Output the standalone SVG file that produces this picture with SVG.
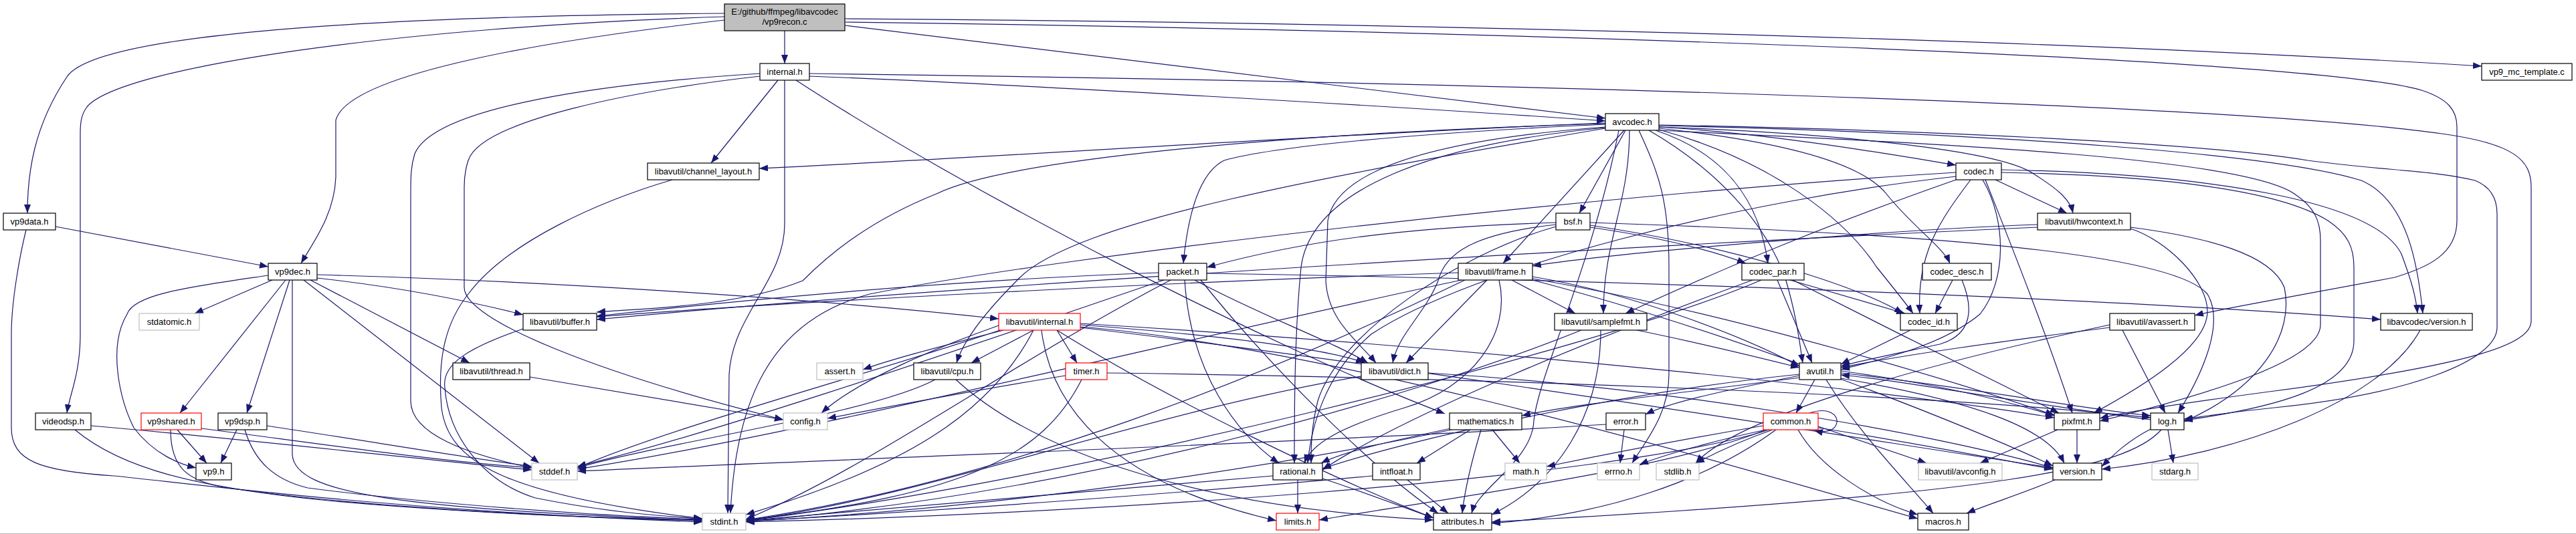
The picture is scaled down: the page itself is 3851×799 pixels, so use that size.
<svg xmlns="http://www.w3.org/2000/svg" width="3851" height="799" viewBox="0 0 3851 799">
<style>
.e{fill:none;stroke:#191970;stroke-width:1.2;marker-end:url(#arr)}
.n rect{fill:#fff;stroke:#000;stroke-width:1.2}
.n.g rect{stroke:#bfbfbf}
.n.r rect{stroke:#ff0000}
.n.m rect{fill:#bfbfbf}
.n text{font-family:"Liberation Sans",Arial,sans-serif;font-size:13px;fill:#000;text-anchor:middle}
</style>
<defs>
<marker id="arr" viewBox="0 0 13 10" refX="13" refY="5" markerWidth="13" markerHeight="10" markerUnits="userSpaceOnUse" orient="auto"><path d="M0,0 L13,5 L0,10 z" fill="#191970"/></marker>
</defs>
<rect width="3851" height="799" fill="#fff"/>
<line x1="0" y1="798.5" x2="3851" y2="798.5" stroke="#b4b4b4"/>
<g id="connectors">
<path class="e" d="M1173,46 L1173,95"/>
<path class="e" d="M1263,38 L2400,177"/>
<path class="e" d="M1263,28 C2000,33 3000,55 3710,99"/>
<path class="e" d="M1263,33 C2200,45 3450,85 3620,135 C3660,148 3673,165 3673,190 L3673,330 C3673,380 3630,400 3580,415 C3450,440 3320,462 3281,472"/>
<path class="e" d="M1083,20 C500,25 140,55 100,115 C50,190 41,260 41,319"/>
<path class="e" d="M1083,25 C600,40 180,100 130,160 C121,172 120,185 120,200 L120,500 C120,560 104,590 100,618"/>
<path class="e" d="M1083,30 C820,60 520,110 502,180 L502,265 C500,320 470,360 450,394"/>
<path class="e" d="M1163,120 L1063,244"/>
<path class="e" d="M1173,120 L1173,335 C1173,420 1095,470 1090,560 L1088,768"/>
<path class="e" d="M1136,110 C900,125 650,160 620,230 C614,250 614,265 614,290 L614,600 C614,650 700,680 795,700"/>
<path class="e" d="M1136,114 C950,135 720,180 700,240 C695,255 694,265 694,280 L694,430 C694,480 900,560 1171,628"/>
<path class="e" d="M1190,120 C1450,290 1900,520 2160,619"/>
<path class="e" d="M1210,114 C1500,125 2100,160 2400,181"/>
<path class="e" d="M1210,110 C2000,120 3300,150 3650,200 C3760,215 3784,240 3784,280 L3784,480 C3784,515 3700,545 3400,585 C3250,605 3170,618 3139,626"/>
<path class="e" d="M2450,195 C2480,260 2495,300 2495,400 L2495,560 C2495,620 2460,660 2440,693"/>
<path class="e" d="M2436,195 C2436,305 2397,359 2397,469"/>
<path class="e" d="M2420,195 C2380,400 2300,560 2293,630 C2290,690 2210,730 2200,768"/>
<path class="e" d="M2465,195 C2560,250 2640,330 2670,420 C2685,470 2690,510 2695,543"/>
<path class="e" d="M2400,185 C1900,200 1500,240 1400,290 C1300,330 1240,380 1200,420 C1100,460 950,462 892,467"/>
<path class="e" d="M2400,192 C2000,260 1600,330 1520,420 C1470,470 1440,510 1430,543"/>
<path class="e" d="M2400,184 C2000,200 1500,235 1135,252"/>
<path class="e" d="M2400,190 C2200,205 2000,240 1985,330 L1982,420 C1985,480 2030,510 2057,543"/>
<path class="e" d="M2428,195 L2247,394"/>
<path class="e" d="M2480,190 C2750,200 2990,225 3040,260 C3080,285 3095,300 3099,319"/>
<path class="e" d="M2480,187 C2900,195 3300,215 3450,240 C3560,255 3640,255 3700,270 C3725,280 3733,300 3733,320 L3733,490 C3733,540 3600,590 3400,610 C3320,618 3290,624 3265,627"/>
<path class="e" d="M2480,195 C2900,215 3350,235 3430,290 C3460,310 3469,330 3469,360 L3469,486 C3469,540 3300,590 3139,630"/>
<path class="e" d="M2400,191 C2150,215 1960,280 1945,400 C1935,500 1935,620 1935,693"/>
<path class="e" d="M2430,195 L2361,319"/>
<path class="e" d="M2480,190 C2650,200 2820,230 2924,247"/>
<path class="e" d="M2480,192 C2650,210 2780,240 2820,290 C2860,340 2905,370 2915,394"/>
<path class="e" d="M2475,195 C2580,230 2630,300 2643,394"/>
<path class="e" d="M2480,194 C2650,240 2760,330 2805,399 C2830,430 2850,455 2860,469"/>
<path class="e" d="M2400,186 C2100,200 1900,220 1830,240 C1790,260 1775,330 1769,394"/>
<path class="e" d="M2480,188 C3000,200 3400,230 3530,270 C3600,300 3615,400 3622,469"/>
<path class="e" d="M2326,336 C2200,350 2160,380 2150,420 C2130,470 2090,500 2082,543"/>
<path class="e" d="M2377,333 C2900,350 3250,380 3300,440 C3330,490 3280,580 3256,618"/>
<path class="e" d="M2326,339 C2180,380 2000,500 1970,600 C1960,640 1960,670 1960,693"/>
<path class="e" d="M2377,337 C2600,370 2780,430 2845,469"/>
<path class="e" d="M2377,340 C2480,355 2560,375 2610,394"/>
<path class="e" d="M2326,333 C2100,340 1950,360 1804,400"/>
<path class="e" d="M2924,258 C2400,290 1600,380 1300,440 C1150,480 1100,600 1092,768"/>
<path class="e" d="M2964,269 C3000,330 3000,420 2960,470 C2900,520 2800,540 2752,553"/>
<path class="e" d="M2983,269 L3090,319"/>
<path class="e" d="M2992,258 C3200,262 3400,280 3480,330 C3510,350 3519,370 3519,400 L3519,510 C3519,580 3400,610 3265,629"/>
<path class="e" d="M2968,269 C3000,350 3060,500 3098,618"/>
<path class="e" d="M2924,264 C2600,300 2200,400 2050,500 C1980,560 1960,640 1955,693"/>
<path class="e" d="M2924,269 C2750,330 2600,390 2430,469"/>
<path class="e" d="M2946,269 C2900,330 2865,380 2870,469"/>
<path class="e" d="M2992,254 C3300,260 3550,300 3590,380 C3605,420 3612,445 3614,469"/>
<path class="e" d="M3046,340 C2600,360 1500,420 892,478"/>
<path class="e" d="M3046,336 C2800,345 2400,380 2291,398"/>
<path class="e" d="M3185,340 C3300,355 3395,380 3415,430 C3430,500 3380,580 3265,631"/>
<path class="e" d="M3185,342 C3240,360 3300,420 3300,466 C3300,520 3200,580 3130,618"/>
<path class="e" d="M1740,419 C1500,500 1100,640 863,698"/>
<path class="e" d="M1750,419 C1500,550 1300,700 1115,777"/>
<path class="e" d="M1795,419 C1900,550 2050,700 2150,768"/>
<path class="e" d="M1732,408 C1400,420 1100,450 892,473"/>
<path class="e" d="M1786,419 C1880,470 1990,510 2045,543"/>
<path class="e" d="M1771,419 C1780,560 1850,650 1912,693"/>
<path class="e" d="M1804,409 C2500,420 3200,450 3559,478"/>
<path class="e" d="M2185,419 C1800,500 1200,650 863,702"/>
<path class="e" d="M2190,419 C1900,560 1500,720 1115,778"/>
<path class="e" d="M2291,414 C2450,440 2620,510 2690,548"/>
<path class="e" d="M2180,408 C1800,420 1200,450 892,474"/>
<path class="e" d="M2223,419 L2102,543"/>
<path class="e" d="M2241,419 C2260,500 2200,580 2100,610 C2000,640 1960,665 1950,693"/>
<path class="e" d="M2260,419 L2355,469"/>
<path class="e" d="M2291,417 C2600,470 2950,580 3071,621"/>
<path class="e" d="M2291,419 C2600,500 2950,640 3069,697"/>
<path class="e" d="M2633,419 C2400,520 1600,720 1115,779"/>
<path class="e" d="M2657,419 L2709,543"/>
<path class="e" d="M2620,419 C2400,500 2100,620 1977,703"/>
<path class="e" d="M2680,419 C2800,480 3000,580 3078,618"/>
<path class="e" d="M2676,419 L2848,469"/>
<path class="e" d="M2933,419 C2950,460 2950,500 2900,515 C2830,530 2780,540 2752,548"/>
<path class="e" d="M2919,419 L2893,469"/>
<path class="e" d="M2856,494 L2752,545"/>
<path class="e" d="M39,344 C30,380 17,450 17,500 L17,640 C17,690 60,705 170,712 C300,725 600,765 1050,781"/>
<path class="e" d="M83,339 L401,399"/>
<path class="e" d="M407,419 L291,469"/>
<path class="e" d="M401,412 C280,430 200,440 190,470 C160,520 180,600 200,640 C230,680 270,695 293,700"/>
<path class="e" d="M427,419 L269,618"/>
<path class="e" d="M433,419 L369,618"/>
<path class="e" d="M437,419 L437,680 C440,740 600,760 1050,779"/>
<path class="e" d="M454,419 L806,693"/>
<path class="e" d="M464,419 L702,543"/>
<path class="e" d="M474,416 C600,430 700,450 782,471"/>
<path class="e" d="M474,411 C800,420 1200,445 1493,477"/>
<path class="e" d="M782,492 C700,520 660,545 665,580 C670,650 720,720 800,745 C900,765 980,772 1050,776"/>
<path class="e" d="M1005,269 C900,300 760,360 700,440 C660,490 655,550 660,610 C670,690 750,740 1050,776"/>
<path class="e" d="M792,564 L1171,628"/>
<path class="e" d="M1557,494 C1570,600 1650,720 1908,779"/>
<path class="e" d="M1545,494 C1480,620 1350,700 1115,770"/>
<path class="e" d="M1495,494 C1300,560 1000,640 863,700"/>
<path class="e" d="M1500,494 C1420,515 1340,535 1290,553"/>
<path class="e" d="M1493,487 C1400,520 1280,570 1228,618"/>
<path class="e" d="M1580,494 C1750,600 2000,720 2143,775"/>
<path class="e" d="M1580,494 L1610,543"/>
<path class="e" d="M1545,494 L1452,543"/>
<path class="e" d="M1615,486 C1800,500 1980,520 2040,543"/>
<path class="e" d="M1615,489 C2000,520 2600,700 2867,776"/>
<path class="e" d="M1615,484 C2200,520 2800,580 3071,625"/>
<path class="e" d="M1615,490 C2200,560 2800,660 3069,700"/>
<path class="e" d="M2364,494 C2100,600 1600,740 1115,780"/>
<path class="e" d="M2447,494 C2550,515 2630,535 2690,550"/>
<path class="e" d="M2393,494 C2393,620 2330,720 2230,770"/>
<path class="e" d="M3154,486 C2900,540 2600,620 2535,693"/>
<path class="e" d="M3154,490 C3000,510 2850,530 2752,550"/>
<path class="e" d="M3173,494 L3237,618"/>
<path class="e" d="M3618,494 C3560,600 3350,680 3142,702"/>
<path class="e" d="M1398,568 C1300,620 1000,660 863,700"/>
<path class="e" d="M1429,568 C1550,680 1800,760 2143,778"/>
<path class="e" d="M1593,562 C1450,585 1320,610 1237,626"/>
<path class="e" d="M1617,568 C1560,680 1450,740 1115,778"/>
<path class="e" d="M1655,558 C2200,565 2900,590 3215,625"/>
<path class="e" d="M2035,563 C1700,620 1400,740 1115,779"/>
<path class="e" d="M2135,558 C2500,580 2900,650 3069,700"/>
<path class="e" d="M2713,568 L2685,618"/>
<path class="e" d="M2690,562 C2600,580 2500,600 2460,620"/>
<path class="e" d="M2690,560 C2400,590 2100,660 1977,701"/>
<path class="e" d="M2752,566 C2950,600 3060,640 3086,693"/>
<path class="e" d="M2730,568 C2780,650 2850,720 2890,768"/>
<path class="e" d="M2690,565 C2500,590 2350,605 2275,622"/>
<path class="e" d="M2752,558 C2950,580 3100,610 3215,622"/>
<path class="e" d="M2752,555 C2900,575 3000,600 3071,622"/>
<path class="e" d="M3241,643 L3249,693"/>
<path class="e" d="M3215,628 C3000,600 2850,570 2752,561"/>
<path class="e" d="M3231,643 C3180,700 3000,740 2230,781"/>
<path class="e" d="M3217,641 C3180,660 3160,680 3142,698"/>
<path class="e" d="M2705,618 C2735,608 2748,622 2746,632 C2744,645 2728,648 2712,644"/>
<path class="e" d="M2718,638 L2880,693"/>
<path class="e" d="M2718,640 C2850,660 3000,690 3069,702"/>
<path class="e" d="M2688,643 C2720,700 2800,750 2867,770"/>
<path class="e" d="M2640,643 C2560,660 2490,680 2451,695"/>
<path class="e" d="M2650,643 C2600,660 2560,680 2535,693"/>
<path class="e" d="M2636,637 C2500,660 2400,680 2312,698"/>
<path class="e" d="M2640,643 C2500,700 2200,740 1972,778"/>
<path class="e" d="M2645,643 C2400,720 1600,770 1115,781"/>
<path class="e" d="M2655,643 C2550,720 2400,770 2230,783"/>
<path class="e" d="M2428,643 L2422,693"/>
<path class="e" d="M2401,635 C2000,660 1200,690 863,705"/>
<path class="e" d="M2198,643 L2118,693"/>
<path class="e" d="M2231,643 L2272,693"/>
<path class="e" d="M2214,643 C2200,690 2190,730 2186,768"/>
<path class="e" d="M2169,641 C2080,660 2010,675 1975,693"/>
<path class="e" d="M2170,643 C1900,700 1500,760 1115,780"/>
<path class="e" d="M3076,643 L2960,693"/>
<path class="e" d="M3105,643 L3105,693"/>
<path class="e" d="M3072,718 C3020,740 2970,755 2940,768"/>
<path class="e" d="M1940,718 L1940,768"/>
<path class="e" d="M1977,716 C2050,740 2100,760 2143,775"/>
<path class="e" d="M1903,712 C1600,740 1300,765 1115,779"/>
<path class="e" d="M2104,718 L2165,768"/>
<path class="e" d="M2052,712 C1800,735 1400,765 1115,780"/>
<path class="e" d="M136,637 C400,660 650,690 795,703"/>
<path class="e" d="M112,643 C180,700 290,730 500,750 C700,768 900,775 1050,779"/>
<path class="e" d="M265,643 L309,693"/>
<path class="e" d="M301,641 C450,660 650,690 795,700"/>
<path class="e" d="M255,643 C255,700 280,720 340,730 C550,760 850,775 1050,778"/>
<path class="e" d="M354,643 L330,693"/>
<path class="e" d="M399,637 C550,660 700,685 795,698"/>
<path class="e" d="M366,643 C380,690 410,718 460,730 C650,755 900,772 1050,777"/>
</g>
<g id="n-main" class="n m"><rect x="1083" y="6" width="180" height="40"/><text x="1173" y="22">E:/github/ffmpeg/libavcodec</text><text x="1173" y="37">/vp9recon.c</text></g>
<g id="n-internal" class="n"><rect x="1136" y="95" width="74" height="25"/><text x="1173" y="112">internal.h</text></g>
<g id="n-vp9mc" class="n"><rect x="3710" y="95" width="135" height="25"/><text x="3777.5" y="112">vp9_mc_template.c</text></g>
<g id="n-avcodec" class="n"><rect x="2400" y="170" width="80" height="25"/><text x="2440" y="187">avcodec.h</text></g>
<g id="n-chlayout" class="n"><rect x="968" y="244" width="167" height="25"/><text x="1051.5" y="261">libavutil/channel_layout.h</text></g>
<g id="n-codec" class="n"><rect x="2924" y="244" width="68" height="25"/><text x="2958" y="261">codec.h</text></g>
<g id="n-vp9data" class="n"><rect x="5" y="319" width="78" height="25"/><text x="44" y="336">vp9data.h</text></g>
<g id="n-bsf" class="n"><rect x="2326" y="319" width="51" height="25"/><text x="2351.5" y="336">bsf.h</text></g>
<g id="n-hwcontext" class="n"><rect x="3046" y="319" width="139" height="25"/><text x="3115.5" y="336">libavutil/hwcontext.h</text></g>
<g id="n-vp9dec" class="n"><rect x="401" y="394" width="73" height="25"/><text x="437.5" y="411">vp9dec.h</text></g>
<g id="n-packet" class="n"><rect x="1732" y="394" width="72" height="25"/><text x="1768" y="411">packet.h</text></g>
<g id="n-frame" class="n"><rect x="2180" y="394" width="111" height="25"/><text x="2235.5" y="411">libavutil/frame.h</text></g>
<g id="n-codecpar" class="n"><rect x="2604" y="394" width="93" height="25"/><text x="2650.5" y="411">codec_par.h</text></g>
<g id="n-codecdesc" class="n"><rect x="2874" y="394" width="103" height="25"/><text x="2925.5" y="411">codec_desc.h</text></g>
<g id="n-stdatomic" class="n g"><rect x="208" y="469" width="90" height="25"/><text x="253" y="486">stdatomic.h</text></g>
<g id="n-buffer" class="n"><rect x="782" y="469" width="110" height="25"/><text x="837" y="486">libavutil/buffer.h</text></g>
<g id="n-lavuinternal" class="n r"><rect x="1493" y="469" width="122" height="25"/><text x="1554" y="486">libavutil/internal.h</text></g>
<g id="n-samplefmt" class="n"><rect x="2324" y="469" width="138" height="25"/><text x="2393" y="486">libavutil/samplefmt.h</text></g>
<g id="n-codecid" class="n"><rect x="2841" y="469" width="85" height="25"/><text x="2883.5" y="486">codec_id.h</text></g>
<g id="n-avassert" class="n"><rect x="3154" y="469" width="127" height="25"/><text x="3217.5" y="486">libavutil/avassert.h</text></g>
<g id="n-lavcversion" class="n"><rect x="3559" y="469" width="137" height="25"/><text x="3627.5" y="486">libavcodec/version.h</text></g>
<g id="n-thread" class="n"><rect x="677" y="543" width="115" height="25"/><text x="734.5" y="560">libavutil/thread.h</text></g>
<g id="n-assert" class="n g"><rect x="1221" y="543" width="69" height="25"/><text x="1255.5" y="560">assert.h</text></g>
<g id="n-cpu" class="n"><rect x="1366" y="543" width="100" height="25"/><text x="1416" y="560">libavutil/cpu.h</text></g>
<g id="n-timer" class="n r"><rect x="1593" y="543" width="62" height="25"/><text x="1624" y="560">timer.h</text></g>
<g id="n-dict" class="n"><rect x="2035" y="543" width="100" height="25"/><text x="2085" y="560">libavutil/dict.h</text></g>
<g id="n-avutil" class="n"><rect x="2690" y="543" width="62" height="25"/><text x="2721" y="560">avutil.h</text></g>
<g id="n-videodsp" class="n"><rect x="53" y="618" width="83" height="25"/><text x="94.5" y="635">videodsp.h</text></g>
<g id="n-vp9shared" class="n r"><rect x="211" y="618" width="90" height="25"/><text x="256" y="635">vp9shared.h</text></g>
<g id="n-vp9dsp" class="n"><rect x="326" y="618" width="73" height="25"/><text x="362.5" y="635">vp9dsp.h</text></g>
<g id="n-config" class="n g"><rect x="1171" y="618" width="66" height="25"/><text x="1204" y="635">config.h</text></g>
<g id="n-mathematics" class="n"><rect x="2167" y="618" width="108" height="25"/><text x="2221" y="635">mathematics.h</text></g>
<g id="n-error" class="n"><rect x="2401" y="618" width="59" height="25"/><text x="2430.5" y="635">error.h</text></g>
<g id="n-common" class="n r"><rect x="2636" y="618" width="82" height="25"/><text x="2677" y="635">common.h</text></g>
<g id="n-pixfmt" class="n"><rect x="3071" y="618" width="68" height="25"/><text x="3105" y="635">pixfmt.h</text></g>
<g id="n-log" class="n"><rect x="3215" y="618" width="50" height="25"/><text x="3240" y="635">log.h</text></g>
<g id="n-vp9" class="n"><rect x="293" y="693" width="53" height="25"/><text x="319.5" y="710">vp9.h</text></g>
<g id="n-stddef" class="n g"><rect x="795" y="693" width="68" height="25"/><text x="829" y="710">stddef.h</text></g>
<g id="n-rational" class="n"><rect x="1903" y="693" width="74" height="25"/><text x="1940" y="710">rational.h</text></g>
<g id="n-intfloat" class="n"><rect x="2052" y="693" width="71" height="25"/><text x="2087.5" y="710">intfloat.h</text></g>
<g id="n-math" class="n g"><rect x="2250" y="693" width="62" height="25"/><text x="2281" y="710">math.h</text></g>
<g id="n-errno" class="n g"><rect x="2388" y="693" width="63" height="25"/><text x="2419.5" y="710">errno.h</text></g>
<g id="n-stdlib" class="n g"><rect x="2476" y="693" width="64" height="25"/><text x="2508" y="710">stdlib.h</text></g>
<g id="n-avconfig" class="n g"><rect x="2868" y="693" width="125" height="25"/><text x="2930.5" y="710">libavutil/avconfig.h</text></g>
<g id="n-version" class="n"><rect x="3069" y="693" width="73" height="25"/><text x="3105.5" y="710">version.h</text></g>
<g id="n-stdarg" class="n g"><rect x="3217" y="693" width="69" height="25"/><text x="3251.5" y="710">stdarg.h</text></g>
<g id="n-stdint" class="n g"><rect x="1050" y="768" width="65" height="25"/><text x="1082.5" y="785">stdint.h</text></g>
<g id="n-limits" class="n r"><rect x="1908" y="768" width="64" height="25"/><text x="1940" y="785">limits.h</text></g>
<g id="n-attributes" class="n"><rect x="2143" y="768" width="87" height="25"/><text x="2186.5" y="785">attributes.h</text></g>
<g id="n-macros" class="n"><rect x="2867" y="768" width="76" height="25"/><text x="2905" y="785">macros.h</text></g>
</svg>
